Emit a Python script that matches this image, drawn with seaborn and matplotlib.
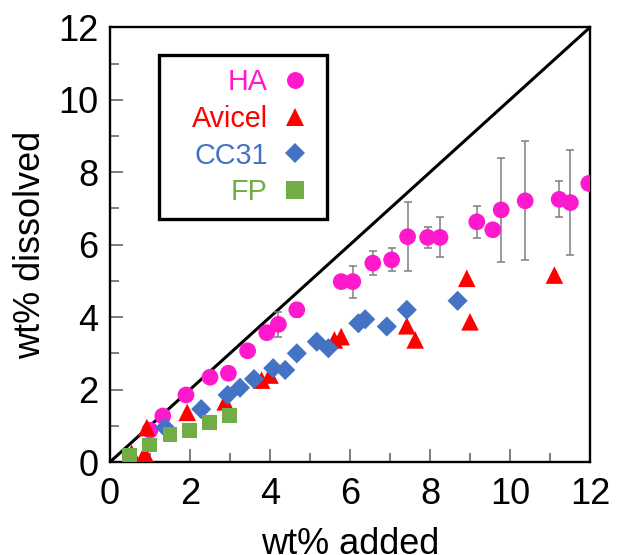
import numpy as np
import pandas as pd
import seaborn as sns
import matplotlib.pyplot as plt
from matplotlib.lines import Line2D
from matplotlib.patches import Rectangle
from matplotlib.ticker import MultipleLocator

sns.set_theme(style="white")
plt.rcParams["font.family"] = ["Liberation Sans", "DejaVu Sans"]
plt.rcParams["text.color"] = "black"
plt.rcParams["axes.labelcolor"] = "black"

# HA (hyaluronic acid) series with error bars
ha_added = [1.00, 1.32, 1.90, 2.50, 2.96, 3.44, 3.92, 4.21, 4.67, 5.78, 6.07, 6.57,
            7.04, 7.44, 7.94, 8.25, 9.17, 9.57, 9.78, 10.38, 11.23, 11.51, 11.97]
ha_dissolved = [0.88, 1.27, 1.85, 2.34, 2.45, 3.07, 3.57, 3.80, 4.20, 4.98, 4.98, 5.49,
                5.58, 6.22, 6.20, 6.20, 6.63, 6.41, 6.96, 7.21, 7.25, 7.16, 7.69]
ha_err = [0.0, 0.0, 0.0, 0.0, 0.0, 0.0, 0.08, 0.35, 0.20, 0.0, 0.44, 0.33,
          0.32, 0.96, 0.28, 0.55, 0.45, 0.0, 1.44, 1.64, 0.50, 1.44, 0.0]

avicel_added = [0.54, 0.87, 0.92, 1.93, 2.88, 3.79, 4.00, 5.61, 5.78, 7.42, 7.63, 8.92, 9.00, 11.11]
avicel_dissolved = [0.24, 0.24, 0.95, 1.37, 1.66, 2.26, 2.40, 3.37, 3.46, 3.76, 3.37, 5.07, 3.87, 5.16]

cc31_added = [1.38, 2.28, 2.94, 3.25, 3.60, 4.08, 4.38, 4.67, 5.17, 5.46, 6.21, 6.38, 6.92, 7.42, 8.69]
cc31_dissolved = [0.95, 1.46, 1.85, 2.05, 2.29, 2.59, 2.54, 3.00, 3.32, 3.14, 3.83, 3.94, 3.74, 4.20, 4.45]

fp_added = [0.48, 0.98, 1.50, 1.98, 2.48, 2.98]
fp_dissolved = [0.17, 0.47, 0.75, 0.86, 1.10, 1.28]

series_names = ["HA", "Avicel", "CC31", "FP"]
colors = {"HA": "#FF19CC", "Avicel": "#FF0000", "CC31": "#4472C4", "FP": "#70AD47"}
markers = {"HA": "o", "Avicel": "^", "CC31": "D", "FP": "s"}
sizes = {"HA": 145, "Avicel": 160, "CC31": 105, "FP": 115}
legend_ms = {"HA": 12.2, "Avicel": 13.0, "CC31": 10.0, "FP": 12.3}

axis_ticks = [0, 2, 4, 6, 8, 10, 12]

df = pd.concat([
    pd.DataFrame({"added": ha_added, "dissolved": ha_dissolved, "sample": "HA"}),
    pd.DataFrame({"added": avicel_added, "dissolved": avicel_dissolved, "sample": "Avicel"}),
    pd.DataFrame({"added": cc31_added, "dissolved": cc31_dissolved, "sample": "CC31"}),
    pd.DataFrame({"added": fp_added, "dissolved": fp_dissolved, "sample": "FP"}),
], ignore_index=True)

fig = plt.figure(figsize=(6.17, 5.55), dpi=100)
ax = fig.add_axes([110 / 617, 93 / 555, 480 / 617, 434.7 / 555])

# 1:1 reference line
ax.plot([0, 12], [0, 12], color="black", lw=2.2, zorder=1)

# error bars for HA
ha_err_arr = np.array(ha_err)
mask = ha_err_arr > 0
ax.errorbar(np.array(ha_added)[mask], np.array(ha_dissolved)[mask], yerr=ha_err_arr[mask],
            fmt="none", ecolor="#7f7f7f", elinewidth=1.1, capsize=3, capthick=1.1, zorder=2)

for i, name in enumerate(series_names):
    sub = df[df["sample"] == name]
    sns.scatterplot(data=sub, x="added", y="dissolved", ax=ax, color=colors[name],
                    marker=markers[name], s=sizes[name], edgecolor="none",
                    linewidth=0, legend=False, zorder=3 + i)

ax.set_xlim(0, 12)
ax.set_ylim(0, 12)
ax.set_xticks(axis_ticks)
ax.set_yticks(axis_ticks)
ax.xaxis.set_minor_locator(MultipleLocator(1))
ax.yaxis.set_minor_locator(MultipleLocator(1))
ax.tick_params(which="both", direction="in", width=1.2, color="#666666",
               bottom=True, left=True, top=False, right=False)
ax.tick_params(which="major", length=9.5, labelsize=26, labelcolor="black")
ax.tick_params(which="minor", length=6.5)
ax.tick_params(axis="x", which="major", pad=10.5)
ax.tick_params(axis="y", which="major", pad=8.5)
ax.set_xticklabels([str(t) for t in axis_ticks])
ax.set_yticklabels([str(t) for t in axis_ticks])
for side in ["left", "right", "top", "bottom"]:
    ax.spines[side].set_visible(True)
    ax.spines[side].set_color("black")
    ax.spines[side].set_linewidth(1.7)

ax.set_xlabel("wt% added", fontsize=26, labelpad=11, color="black")
ax.set_ylabel("wt% dissolved", fontsize=26, labelpad=7, color="black")

# legend: text to the left of the marker, inside a square frame
handles = [Line2D([], [], linestyle="none", marker=markers[n], color=colors[n],
                  markersize=legend_ms[n], markeredgewidth=0) for n in series_names]
leg = ax.legend(handles, series_names, loc="upper right", bbox_to_anchor=(0.406, 0.907),
                frameon=False, fontsize=20.7, markerfirst=False, handlelength=0.7,
                handletextpad=0.6, labelspacing=0.31, borderpad=0, borderaxespad=0)
for txt, n in zip(leg.get_texts(), series_names):
    txt.set_color(colors[n])
ax.add_patch(Rectangle((0.102, 0.559), 0.35, 0.377, transform=ax.transAxes,
                       fill=False, edgecolor="black", lw=2.4, zorder=10))

fig.savefig("out.png", dpi=100)
